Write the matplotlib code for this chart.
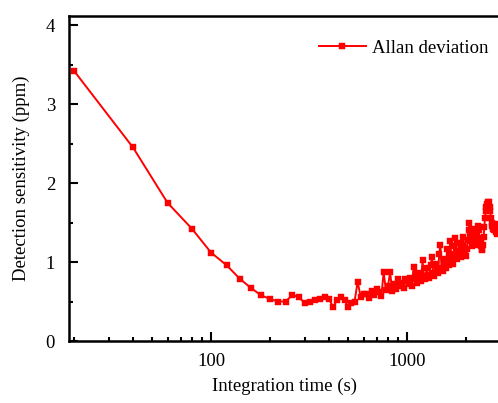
"""Allan deviation plot: detection sensitivity vs integration time."""

import matplotlib

matplotlib.use("Agg")
import matplotlib.pyplot as plt  # use: to create plots
import numpy as np
from matplotlib.ticker import FixedLocator, FuncFormatter, MultipleLocator

# integration time (s)
int_time = [
    20, 40, 60, 80, 100, 120, 140, 160, 180, 200,
    220, 240, 260, 280, 300, 320, 340, 360, 380, 400,
    420, 440, 460, 480, 500, 520, 540, 560, 580, 600,
    620, 640, 660, 680, 700, 720, 740, 760, 780, 800,
    820, 840, 860, 880, 900, 920, 940, 960, 980, 1000,
    1020, 1040, 1060, 1080, 1100, 1120, 1140, 1160, 1180, 1200,
    1220, 1240, 1260, 1280, 1300, 1320, 1340, 1360, 1380, 1400,
    1420, 1440, 1460, 1480, 1500, 1520, 1540, 1560, 1580, 1600,
    1620, 1640, 1660, 1680, 1700, 1720, 1740, 1760, 1780, 1800,
    1820, 1840, 1860, 1880, 1900, 1920, 1940, 1960, 1980, 2000,
    2020, 2040, 2060, 2080, 2100, 2120, 2140, 2160, 2180, 2200,
    2220, 2240, 2260, 2280, 2300, 2320, 2340, 2360, 2380, 2400,
    2420, 2440, 2460, 2480, 2500, 2520, 2540, 2560, 2580, 2600,
    2620, 2640, 2660, 2680, 2700, 2720, 2740, 2760, 2780, 2800,
    2820, 2840, 2860, 2880, 2900,
]

# detection sensitivity (ppm)
sensitivity = [
    3.42, 2.45, 1.75, 1.42, 1.12, 0.96, 0.79, 0.67, 0.58, 0.53,
    0.50, 0.50, 0.58, 0.56, 0.48, 0.50, 0.52, 0.53, 0.56, 0.53,
    0.43, 0.52, 0.56, 0.52, 0.43, 0.48, 0.50, 0.75, 0.56, 0.59,
    0.60, 0.55, 0.63, 0.58, 0.66, 0.62, 0.57, 0.87, 0.65, 0.70,
    0.87, 0.63, 0.72, 0.66, 0.78, 0.70, 0.74, 0.67, 0.79, 0.76,
    0.72, 0.80, 0.70, 0.94, 0.78, 0.74, 0.86, 0.80, 0.76, 1.02,
    0.82, 0.78, 0.92, 0.84, 0.80, 0.96, 1.06, 0.86, 0.82, 0.98,
    0.90, 0.86, 1.10, 1.22, 0.92, 0.88, 1.04, 0.96, 0.92, 1.16,
    1.00, 0.96, 1.26, 1.10, 1.02, 0.98, 1.20, 1.30, 1.08, 1.04,
    1.14, 1.24, 1.12, 1.06, 1.10, 1.20, 1.32, 1.18, 1.12, 1.08,
    1.16, 1.28, 1.40, 1.49, 1.36, 1.26, 1.20, 1.30, 1.42, 1.38,
    1.30, 1.24, 1.22, 1.34, 1.46, 1.40, 1.30, 1.24, 1.20, 1.16,
    1.15, 1.22, 1.32, 1.44, 1.56, 1.64, 1.70, 1.74, 1.76, 1.72,
    1.76, 1.70, 1.64, 1.56, 1.50, 1.46, 1.44, 1.42, 1.40, 1.44,
    1.48, 1.42, 1.38, 1.36, 1.40,
]

x_major = [100, 1000]
x_minor = [20, 30, 40, 50, 60, 70, 80, 90, 200, 300, 400, 500, 600, 700, 800, 900, 2000, 3000]

plt.rcParams["font.family"] = ["Liberation Serif", "DejaVu Serif"]
plt.rcParams["font.size"] = 13.5

fig = plt.figure(figsize=(4.98, 4.03), dpi=100)
# axes runs past the right edge of the picture, like the cropped original
ax = fig.add_axes([69 / 498, 62 / 403, 451 / 498, 325 / 403])

ax.plot(
    int_time,
    sensitivity,
    color="#ff0000",
    lw=1.4,
    marker="s",
    ms=5,
    mec="#ff0000",
    mew=0.3,
    label="Allan deviation",
)

ax.set_xscale("log")
ax.set_xlim(18.86, 3771)
ax.set_ylim(0, 4.114)

ax.xaxis.set_major_locator(FixedLocator(x_major))
ax.xaxis.set_minor_locator(FixedLocator(x_minor))
ax.xaxis.set_major_formatter(FuncFormatter(lambda v, p: f"{v:.0f}"))
ax.xaxis.set_minor_formatter(FuncFormatter(lambda v, p: ""))
ax.yaxis.set_major_locator(MultipleLocator(1))
ax.yaxis.set_minor_locator(MultipleLocator(0.5))

for s in ax.spines.values():
    s.set_linewidth(1.8)
ax.tick_params(which="both", direction="in", top=False, right=False, width=1.5)
ax.tick_params(which="major", length=6.5)
ax.tick_params(which="minor", length=3)
ax.tick_params(axis="y", pad=10)
ax.tick_params(axis="x", pad=9)

ax.set_xlabel("Integration time (s)")
ax.set_ylabel("Detection sensitivity (ppm)")
ax.xaxis.set_label_coords(0.477, -0.112)
ax.yaxis.set_label_coords(-0.086, 0.5)

ax.legend(
    loc="center left",
    bbox_to_anchor=(319 / 498, 1 - 48 / 403),
    bbox_transform=fig.transFigure,
    frameon=False,
    borderpad=0,
    borderaxespad=0,
    handlelength=2.5,
    handletextpad=0.3,
)

plt.savefig("out.png", dpi=100)
